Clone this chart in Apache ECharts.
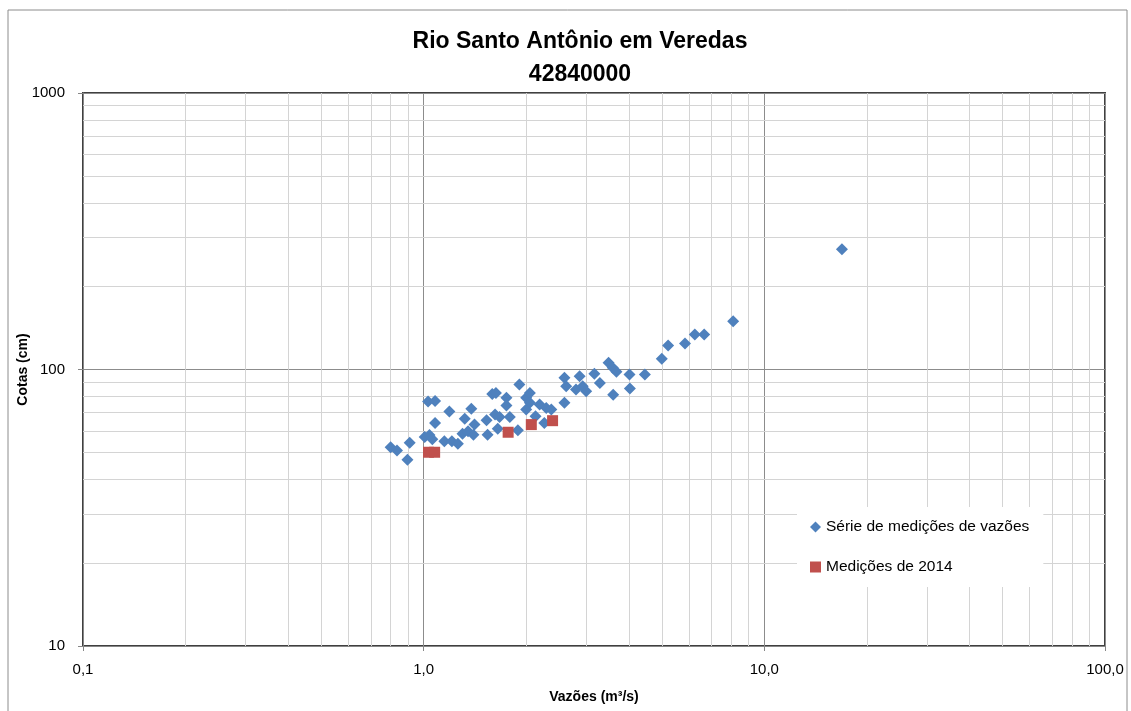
<!DOCTYPE html>
<html>
<head>
<meta charset="utf-8">
<script src="https://cdn.jsdelivr.net/npm/echarts@6/dist/echarts.min.js"></script>
<style>
  html, body { margin: 0; padding: 0; background: #fff; }
  #chart { width: 1131px; height: 711px; }
</style>
</head>
<body>
<div id="chart"></div>
<script>
// série histórica: vazão (m3/s) x cota (cm)
const serieQ = [0.80, 0.835, 0.91, 0.896, 1.007, 1.04, 1.06, 1.03, 1.08, 1.08, 1.19, 1.15, 1.21, 1.26, 1.30, 1.32,
  1.38, 1.35, 1.40, 1.41, 1.53, 1.54, 1.59, 1.63, 1.62, 1.67, 1.65, 1.75, 1.75, 1.79, 1.89, 1.91, 2.00, 2.05,
  2.00, 2.05, 2.13, 2.19, 2.26, 2.29, 2.37, 2.59, 2.59, 2.62, 2.87, 2.80, 2.93, 3.00, 3.17, 3.29, 3.49, 3.59,
  3.68, 3.60, 4.02, 4.03, 4.46, 5.00, 5.22, 5.85, 6.25, 6.66, 8.10, 16.9];
const serieH = [52.3, 50.9, 54.3, 47.2, 57.0, 58.0, 56.0, 76.6, 77.0, 64.1, 70.5, 55.0, 55.0, 53.9, 58.6, 66.4,
  72.1, 59.8, 58.1, 63.2, 65.5, 58.1, 81.6, 82.3, 68.7, 67.4, 61.1, 79.0, 74.1, 67.4, 60.3, 88.2, 79.0, 82.3,
  71.6, 75.8, 67.7, 74.7, 64.1, 72.6, 71.6, 75.8, 93.3, 87.0, 94.6, 84.6, 87.0, 83.4, 96.5, 89.4, 105.8, 101.4,
  98.2, 81.0, 95.9, 85.3, 95.9, 109.3, 122.2, 124.2, 133.9, 133.9, 149.6, 272];

// medições de 2014
const medQ = [1.033, 1.077, 1.77, 2.07, 2.39];
const medH = [50.2, 50.2, 59.3, 63.2, 65.3];

// linhas de grade secundárias
const minorX = [0.2, 0.3, 0.4, 0.5, 0.6, 0.7, 0.8, 0.9, 2, 3, 4, 5, 6, 7, 8, 9, 20, 30, 40, 50, 60, 70, 80, 90];
const minorY = [20, 30, 40, 50, 60, 70, 80, 90, 200, 300, 400, 500, 600, 700, 800, 900];

const FONT = 'Liberation Sans';

const chart = echarts.init(document.getElementById('chart'));

const pairs = (xs, ys) => xs.map((x, i) => [x, ys[i]]);

chart.setOption({
  animation: false,
  textStyle: { fontFamily: FONT },
  title: {
    text: 'Rio Santo Antônio em Veredas\n42840000',
    left: 575,
    textAlign: 'center',
    top: 20,
    textStyle: {
      fontFamily: FONT,
      fontSize: 23,
      fontWeight: 'bold',
      color: '#000',
      lineHeight: 33
    }
  },
  graphic: [{
    type: 'rect',
    shape: { x: 8, y: 10, width: 1119, height: 720 },
    style: { fill: 'none', stroke: '#8c8c8c', lineWidth: 1 },
    silent: true,
    z: -1
  }],
  grid: {
    left: 83,
    right: 26,
    top: 93,
    bottom: 65,
    outerBoundsMode: 'none',
    containLabel: false,
    show: true,
    borderColor: '#404040',
    borderWidth: 2,
    backgroundColor: 'transparent'
  },
  legend: {
    orient: 'vertical',
    left: 797,
    top: 507,
    z: 10,
    padding: [11, 14, 11, 13],
    itemGap: 22,
    itemWidth: 11,
    itemHeight: 11,
    backgroundColor: '#fff',
    textStyle: { fontFamily: FONT, fontSize: 15.5, color: '#000', lineHeight: 18 },
    data: [
      { name: 'Série de medições de vazões', icon: 'diamond' },
      { name: 'Medições de 2014', icon: 'rect' }
    ]
  },
  xAxis: {
    type: 'log',
    logBase: 10,
    min: 0.1,
    max: 100,
    name: 'Vazões (m³/s)',
    nameLocation: 'middle',
    nameGap: 44,
    nameMoveOverlap: false,
    nameTextStyle: { fontFamily: FONT, fontSize: 14, fontWeight: 'bold', color: '#000' },
    axisLine: { lineStyle: { color: '#868686', width: 1 } },
    axisTick: { show: true, length: 5, lineStyle: { color: '#868686' } },
    axisLabel: {
      margin: 16,
      fontSize: 15,
      color: '#000',
      formatter: v => v.toFixed(1).replace('.', ',')
    },
    splitLine: { show: true, lineStyle: { color: '#8c8c8c', width: 1 } }
  },
  yAxis: {
    type: 'log',
    logBase: 10,
    min: 10,
    max: 1000,
    name: 'Cotas (cm)',
    nameLocation: 'middle',
    nameGap: 53,
    nameMoveOverlap: false,
    nameTextStyle: { fontFamily: FONT, fontSize: 14, fontWeight: 'bold', color: '#000' },
    axisLine: { show: true, lineStyle: { color: '#868686', width: 1 } },
    axisTick: { show: true, length: 5, lineStyle: { color: '#868686' } },
    axisLabel: { margin: 18, fontSize: 15, color: '#000', formatter: v => String(Math.round(v)) },
    splitLine: { show: true, lineStyle: { color: '#8c8c8c', width: 1 } }
  },
  series: [
    {
      name: 'grade',
      type: 'scatter',
      data: [],
      silent: true,
      z: 1,
      markLine: {
        silent: true,
        z: 1,
        symbol: ['none', 'none'],
        label: { show: false },
        lineStyle: { color: '#d4d4d4', type: 'solid', width: 1 },
        emphasis: { disabled: true },
        data: minorX.map(v => ({ xAxis: v })).concat(minorY.map(v => ({ yAxis: v })))
      }
    },
    {
      name: 'Série de medições de vazões',
      type: 'scatter',
      symbol: 'diamond',
      symbolSize: 12,
      z: 3,
      itemStyle: { color: '#4F81BD', opacity: 1 },
      data: pairs(serieQ, serieH)
    },
    {
      name: 'Medições de 2014',
      type: 'scatter',
      symbol: 'rect',
      symbolSize: 11,
      z: 4,
      itemStyle: { color: '#C0504D', opacity: 1 },
      data: pairs(medQ, medH)
    }
  ]
});
</script>
</body>
</html>
